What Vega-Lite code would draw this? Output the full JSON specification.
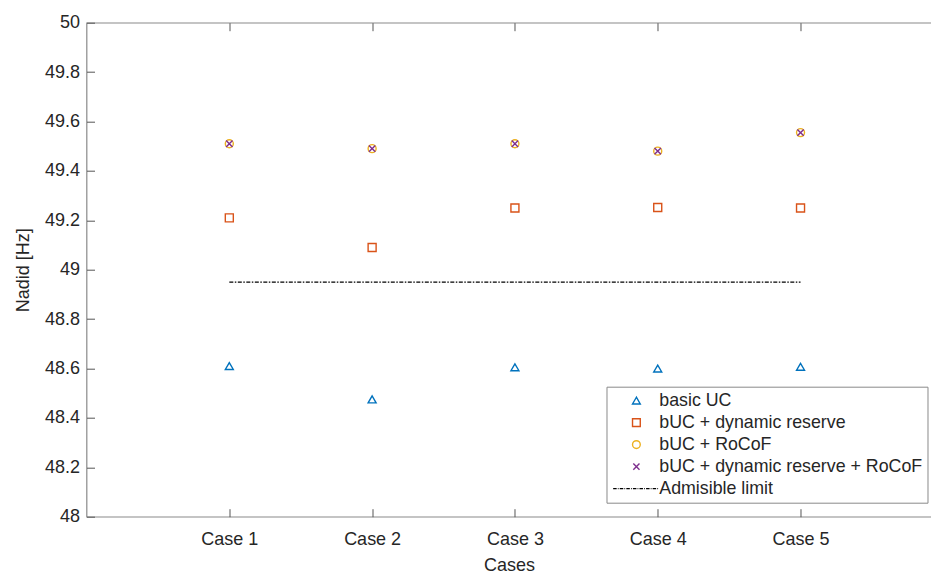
{
  "$schema": "https://vega.github.io/schema/vega-lite/v6.json",
  "autosize": {"type": "none"},
  "width": 845,
  "height": 494,
  "padding": {"left": 86.5, "top": 22.7, "right": 0, "bottom": 60},
  "background": "white",
  "config": {
    "view": {"stroke": "#8a8a8a", "strokeWidth": 1.2},
    "font": "Liberation Sans",
    "axis": {
      "domain": false,
      "tickColor": "#555555",
      "labelColor": "#262626",
      "titleColor": "#262626",
      "labelFont": "Liberation Sans",
      "titleFont": "Liberation Sans",
      "labelFontSize": 18,
      "titleFontSize": 18,
      "titleFontWeight": "normal",
      "grid": false,
      "ticks": true,
      "tickSize": 8,
      "tickWidth": 1,
      "offset": -8,
      "zindex": 1
    }
  },
  "data": {
    "values": [
      {"case": 1, "series": "basic UC", "value": 48.61},
      {"case": 2, "series": "basic UC", "value": 48.475},
      {"case": 3, "series": "basic UC", "value": 48.605},
      {"case": 4, "series": "basic UC", "value": 48.6},
      {"case": 5, "series": "basic UC", "value": 48.607},
      {"case": 1, "series": "bUC + dynamic reserve", "value": 49.21},
      {"case": 2, "series": "bUC + dynamic reserve", "value": 49.09},
      {"case": 3, "series": "bUC + dynamic reserve", "value": 49.25},
      {"case": 4, "series": "bUC + dynamic reserve", "value": 49.252},
      {"case": 5, "series": "bUC + dynamic reserve", "value": 49.25},
      {"case": 1, "series": "bUC + RoCoF", "value": 49.51},
      {"case": 2, "series": "bUC + RoCoF", "value": 49.49},
      {"case": 3, "series": "bUC + RoCoF", "value": 49.51},
      {"case": 4, "series": "bUC + RoCoF", "value": 49.48},
      {"case": 5, "series": "bUC + RoCoF", "value": 49.555},
      {"case": 1, "series": "bUC + dynamic reserve + RoCoF", "value": 49.51},
      {"case": 2, "series": "bUC + dynamic reserve + RoCoF", "value": 49.49},
      {"case": 3, "series": "bUC + dynamic reserve + RoCoF", "value": 49.51},
      {"case": 4, "series": "bUC + dynamic reserve + RoCoF", "value": 49.48},
      {"case": 5, "series": "bUC + dynamic reserve + RoCoF", "value": 49.555},
      {"case": 1, "series": "Admisible limit", "value": 48.95},
      {"case": 5, "series": "Admisible limit", "value": 48.95}
    ]
  },
  "encoding": {
    "y": {
      "field": "value",
      "type": "quantitative",
      "scale": {"domain": [48, 50], "nice": false, "zero": false},
      "axis": {
        "title": "Nadid [Hz]",
        "values": [48, 48.2, 48.4, 48.6, 48.8, 49, 49.2, 49.4, 49.6, 49.8, 50],
        "format": ".1~f",
        "labelPadding": 7,
        "titlePadding": 12
      }
    }
  },
  "layer": [
    {
      "transform": [{"filter": "datum.series !== 'Admisible limit'"}],
      "mark": {"type": "point", "filled": false, "strokeWidth": 1.4, "size": 64, "opacity": 1},
      "encoding": {
        "x": {
          "field": "case",
          "type": "quantitative",
          "scale": {"domain": [0, 5.917], "nice": false, "zero": false},
          "axis": {
            "title": "Cases",
            "values": [1, 2, 3, 4, 5],
            "labelExpr": "'Case ' + datum.value",
            "labelPadding": 14,
            "titlePadding": 8
          }
        },
        "color": {
          "field": "series",
          "type": "nominal",
          "scale": {
            "domain": ["basic UC", "bUC + dynamic reserve", "bUC + RoCoF", "bUC + dynamic reserve + RoCoF", "Admisible limit"],
            "range": ["#0072BD", "#D95319", "#EDB120", "#7E2F8E", "#000000"]
          },
          "legend": {
            "title": null,
            "orient": "none",
            "legendX": 520,
            "legendY": 364,
            "fillColor": "white",
            "strokeColor": "#8a8a8a",
            "padding": 5,
            "labelFont": "Liberation Sans",
            "labelFontSize": 17.8,
            "labelColor": "#262626",
            "symbolSize": 60,
            "symbolStrokeWidth": 1.4,
            "symbolFillColor": "transparent",
            "symbolOffset": 16,
            "labelOffset": 14,
            "rowPadding": 3,
            "labelLimit": 400,
            "zindex": 2
          }
        },
        "shape": {
          "field": "series",
          "type": "nominal",
          "scale": {
            "domain": ["basic UC", "bUC + dynamic reserve", "bUC + RoCoF", "bUC + dynamic reserve + RoCoF", "Admisible limit"],
            "range": ["triangle-up", "square", "circle", "M-0.8,-0.8L0.8,0.8M-0.8,0.8L0.8,-0.8", "M-6,0H-5.1M-4.8,0H-4.6M-4.3,0H-3.4M-3.1,0H-2.9M-2.6,0H-1.7M-1.4,0H-1.2M-0.9,0H0M0.3,0H0.5M0.8,0H1.7M2,0H2.2M2.5,0H3.4M3.7,0H3.9M4.2,0H5.1M5.4,0H5.6"]
          },
          "legend": null
        }
      }
    },
    {
      "transform": [{"filter": "datum.series === 'Admisible limit'"}],
      "mark": {"type": "line", "color": "#000000", "strokeWidth": 1.2, "strokeDash": [4, 1.5, 1.5, 1.5]},
      "encoding": {
        "x": {
          "field": "case",
          "type": "quantitative",
          "scale": {"domain": [0, 5.917], "nice": false, "zero": false},
          "axis": {
            "orient": "top",
            "title": null,
            "labels": false,
            "values": [1, 2, 3, 4, 5]
          }
        }
      }
    }
  ],
  "resolve": {"axis": {"x": "independent"}}
}
